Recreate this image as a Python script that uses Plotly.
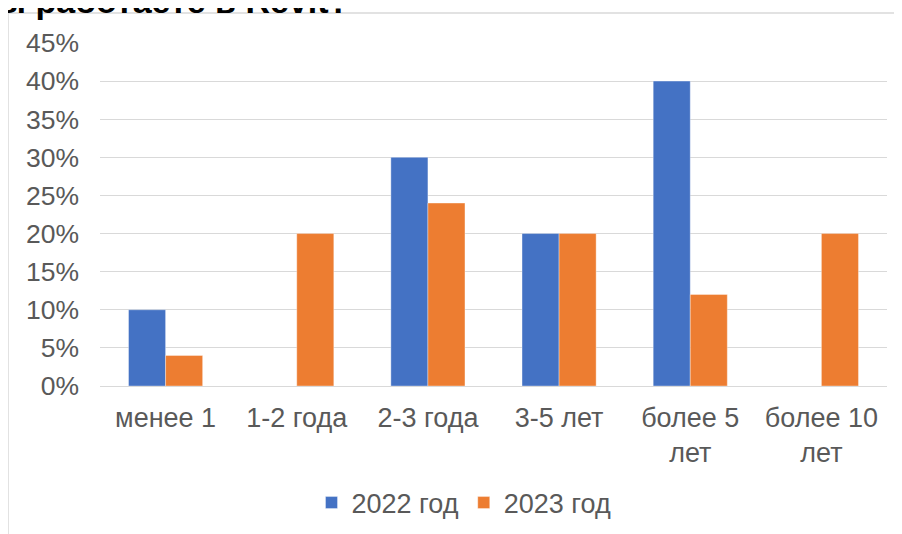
import plotly.graph_objects as go

categories = ["менее 1", "1-2 года", "2-3 года", "3-5 лет", "более 5<br>лет", "более 10<br>лет"]
series_names = ["2022 год", "2023 год"]
values_2022 = [0.10, 0.0, 0.30, 0.20, 0.40, 0.0]
values_2023 = [0.04, 0.20, 0.24, 0.20, 0.12, 0.20]
colors = ["#4472C4", "#ED7D31"]
title_text = "Сколько лет вы работаете в Revit?"
y_ticks = [0, 0.05, 0.10, 0.15, 0.20, 0.25, 0.30, 0.35, 0.40, 0.45]

# page places the figure at (8, 8); work in screen pixels and convert
OFF = 8
W, H = 902 - OFF, 534 - OFF
SL, SR, ST, SB = 100, 887, 43, 386  # plot area in screen pixels
L, T = SL - OFF, ST - OFF
R = W - (SR - OFF)
B = H - (SB - OFF)
pw, ph = W - L - R, H - T - B

def px(sx):
    return (sx - SL) / pw

def py(sy):
    return (SB - sy) / ph

FONT = "Arial, Liberation Sans, sans-serif"
TXT = "#595959"
GRID = "#d9d9d9"

fig = go.Figure()
for name, vals, col in zip(series_names, [values_2022, values_2023], colors):
    fig.add_trace(go.Bar(
        x=categories, y=vals, name=name,
        marker=dict(color=col, line=dict(width=0.6, color="rgba(255,255,255,0.6)")),
    ))

fig.update_layout(
    width=W, height=H,
    margin=dict(l=L, r=R, t=T, b=B, autoexpand=False),
    paper_bgcolor="white", plot_bgcolor="white",
    barmode="group", bargap=0.435, bargroupgap=0,
    font=dict(family=FONT, color=TXT, size=26),
    showlegend=True,
    legend=dict(orientation="h", x=px(464), xanchor="center", y=py(503), yanchor="middle",
                font=dict(size=27, color=TXT), itemclick=False, traceorder="normal",
                bgcolor="rgba(0,0,0,0)"),
    xaxis=dict(showgrid=False, showline=False, zeroline=False, ticks="",
               tickfont=dict(size=27, color=TXT), ticklabelstandoff=13),
    yaxis=dict(range=[0, 0.45], tickvals=y_ticks, tickformat=".0%",
               showgrid=True, gridcolor=GRID, gridwidth=1.3,
               zeroline=True, zerolinecolor=GRID, zerolinewidth=1.3,
               showline=False, ticks="", tickfont=dict(size=26.5, color=TXT),
               ticklabelstandoff=20),
    shapes=[
        dict(type="line", xref="paper", yref="paper", x0=px(8), x1=px(910), y0=py(13), y1=py(13),
             line=dict(color=GRID, width=1.5)),
        dict(type="line", xref="paper", yref="paper", x0=px(8), x1=px(8), y0=py(13), y1=py(545),
             line=dict(color=GRID, width=1.5)),
    ],
    annotations=[
        dict(text="<b>" + title_text + "</b>", xref="paper", yref="paper",
             x=px(351), xanchor="right", y=py(22), yanchor="bottom",
             showarrow=False, font=dict(size=34, color="black", family=FONT)),
    ],
)

fig.write_html("out.html")
